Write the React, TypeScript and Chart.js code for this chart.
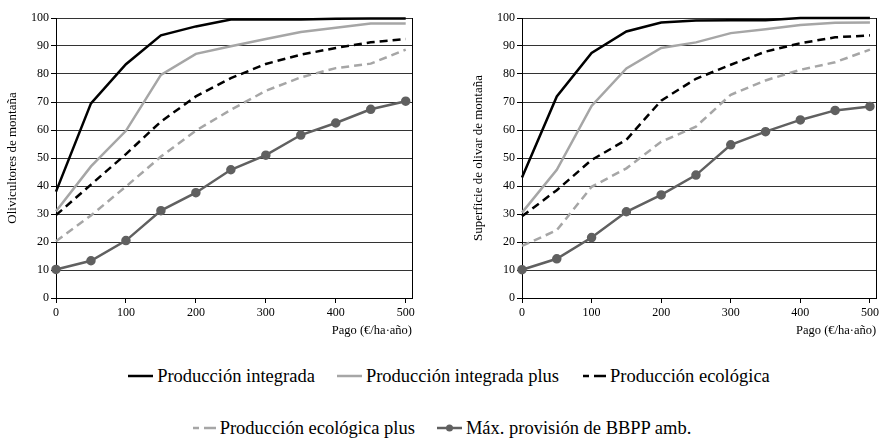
import React, { useEffect, useRef } from "react";
import { Chart, registerables } from "chart.js";

Chart.register(...registerables);

const payments = [0, 50, 100, 150, 200, 250, 300, 350, 400, 450, 500];
const xTickValues = [0, 100, 200, 300, 400, 500];

const seriesNames = [
  "Producción integrada",
  "Producción integrada plus",
  "Producción ecológica",
  "Producción ecológica plus",
  "Máx. provisión de BBPP amb.",
];

// Left chart: Olivicultores de montaña
const integ1 = [38, 69.5, 83.5, 93.8, 97, 99.5, 99.5, 99.5, 99.7, 99.8, 99.8];
const integPlus1 = [31, 47, 59.7, 79.7, 87.2, 89.9, 92.5, 95, 96.5, 98, 98];
const eco1 = [29.6, 40.5, 51.4, 63, 72, 78.5, 83.6, 86.9, 89.3, 91.3, 92.5];
const ecoPlus1 = [20.3, 29.5, 39.8, 50.5, 59.8, 67.2, 74, 78.8, 82.1, 83.7, 88.7];
const max1 = [10.2, 13.3, 20.5, 31.2, 37.6, 45.8, 51, 58.2, 62.5, 67.4, 70.3];

// Right chart: Superficie de olivar de montaña
const integ2 = [43, 72, 87.5, 95.2, 98.4, 99.1, 99.2, 99.2, 100, 100, 100];
const integPlus2 = [30.5, 45.8, 68.6, 82, 89.3, 91.3, 94.6, 96, 97.5, 98.3, 98.4];
const eco2 = [29.2, 38.5, 49.3, 56.5, 70.5, 78.3, 83.3, 88, 91, 93.1, 93.8];
const ecoPlus2 = [18.6, 24.2, 39.7, 46.3, 55.8, 61.2, 72.6, 77.7, 81.5, 84.2, 88.7];
const max2 = [10.1, 14, 21.6, 30.8, 36.8, 43.9, 54.7, 59.4, 63.6, 67, 68.4];

const yTitle1 = "Olivicultores de montaña";
const yTitle2 = "Superficie de olivar de montaña";
const xTitle = "Pago (€/ha·año)";

const FONT = "'Liberation Serif', 'Times New Roman', serif";
const BLACK = "#000000";
const LIGHT = "#a6a6a6";
const DARK = "#606060";

const styles = [
  { color: BLACK, dash: [] as number[], point: false },
  { color: LIGHT, dash: [] as number[], point: false },
  { color: BLACK, dash: [8, 5], point: false },
  { color: LIGHT, dash: [8, 5], point: false },
  { color: DARK, dash: [] as number[], point: true },
];

const rightBorder = {
  id: "rightBorder",
  afterDraw(chart: any) {
    const { ctx, chartArea } = chart;
    ctx.save();
    ctx.strokeStyle = "#000";
    ctx.lineWidth = 1;
    const x = Math.round(chartArea.right) + 0.5;
    ctx.beginPath();
    ctx.moveTo(x, chartArea.top);
    ctx.lineTo(x, chartArea.bottom);
    ctx.stroke();
    ctx.restore();
  },
};

function makeConfig(series: number[][], yTitle: string, padRight: number): any {
  return {
    type: "line",
    data: {
      datasets: series.map((arr, i) => ({
        label: seriesNames[i],
        data: payments.map((x, j) => ({ x, y: arr[j] })),
        borderColor: styles[i].color,
        backgroundColor: styles[i].color,
        borderWidth: 2.5,
        borderDash: styles[i].dash,
        pointRadius: styles[i].point ? 3.5 : 0,
        pointHoverRadius: styles[i].point ? 3.5 : 0,
        pointBackgroundColor: styles[i].color,
        pointBorderColor: styles[i].color,
        tension: 0,
        fill: false,
        clip: 6,
      })),
    },
    options: {
      animation: false,
      responsive: false,
      devicePixelRatio: 1,
      events: [],
      layout: {
        autoPadding: false,
        padding: { left: 0, top: 18, right: padRight, bottom: 0 },
      },
      plugins: {
        legend: { display: false },
        tooltip: { enabled: false },
      },
      scales: {
        x: {
          type: "linear",
          min: 0,
          max: 509,
          afterFit(scale: any) {
            scale.height = 40;
          },
          afterBuildTicks(scale: any) {
            scale.ticks = xTickValues.map((v) => ({ value: v }));
          },
          ticks: {
            autoSkip: false,
            maxRotation: 0,
            color: "#000",
            padding: 3,
            font: { family: FONT, size: 12 },
          },
          grid: {
            display: true,
            drawOnChartArea: false,
            drawTicks: true,
            tickLength: 5,
            tickColor: "#000",
          },
          border: { display: true, color: "#000", width: 1 },
          title: {
            display: true,
            text: xTitle,
            align: "end",
            color: "#000",
            padding: { top: 0, bottom: 0 },
            font: { family: FONT, size: 12.5 },
          },
        },
        y: {
          type: "linear",
          min: 0,
          max: 100,
          afterFit(scale: any) {
            scale.width = 56;
          },
          ticks: {
            stepSize: 10,
            color: "#000",
            padding: 2,
            font: { family: FONT, size: 12 },
          },
          grid: {
            color: "#333333",
            lineWidth: 1,
            drawTicks: true,
            tickLength: 5,
            tickColor: "#000",
          },
          border: { display: true, color: "#000", width: 1 },
          title: {
            display: true,
            text: yTitle,
            color: "#000",
            padding: { top: 5, bottom: 0 },
            font: { family: FONT, size: 13 },
          },
        },
      },
    },
    plugins: [rightBorder],
  };
}

function LineChart(props: { series: number[][]; yTitle: string; width: number; height: number; padRight: number }) {
  const ref = useRef<HTMLCanvasElement | null>(null);
  useEffect(() => {
    if (!ref.current) return;
    const chart = new Chart(ref.current, makeConfig(props.series, props.yTitle, props.padRight));
    return () => chart.destroy();
  }, []);
  return <canvas ref={ref} width={props.width} height={props.height} style={{ display: "block" }} />;
}

function Swatch(props: { index: number }) {
  const s = styles[props.index];
  const w = 25;
  const lines =
    s.dash.length > 0 ? (
      <>
        <line x1={2} y1={6} x2={8} y2={6} stroke={s.color} strokeWidth={2.5} />
        <line x1={13} y1={6} x2={25} y2={6} stroke={s.color} strokeWidth={2.5} />
      </>
    ) : (
      <line x1={0} y1={6} x2={w} y2={6} stroke={s.color} strokeWidth={2.5} />
    );
  return (
    <svg width={w} height={12} style={{ display: "block", marginRight: 4 }}>
      {lines}
      {s.point ? <circle cx={w / 2} cy={6} r={3.5} fill={s.color} /> : null}
    </svg>
  );
}

function LegendRow(props: { items: number[]; top: number; shift: number }) {
  return (
    <div
      style={{
        position: "absolute",
        left: props.shift,
        top: props.top,
        width: 882,
        height: 22,
        display: "flex",
        justifyContent: "center",
        alignItems: "center",
        gap: 22,
        fontFamily: FONT,
        fontSize: 18.5,
        lineHeight: "22px",
        color: "#000",
        whiteSpace: "nowrap",
      }}
    >
      {props.items.map((i) => (
        <div key={i} style={{ display: "flex", alignItems: "center" }}>
          <Swatch index={i} />
          <span>{seriesNames[i]}</span>
        </div>
      ))}
    </div>
  );
}

export default function App() {
  return (
    <div
      style={{
        position: "fixed",
        left: 0,
        top: 0,
        width: 882,
        height: 439,
        background: "#fff",
        overflow: "hidden",
      }}
    >
      <div style={{ position: "absolute", left: 0, top: 0 }}>
        <LineChart series={[integ1, integPlus1, eco1, ecoPlus1, max1]} yTitle={yTitle1} width={441} height={338} padRight={29} />
      </div>
      <div style={{ position: "absolute", left: 466, top: 0 }}>
        <LineChart series={[integ2, integPlus2, eco2, ecoPlus2, max2]} yTitle={yTitle2} width={416} height={338} padRight={4} />
      </div>
      <LegendRow items={[0, 1, 2]} top={365} shift={8} />
      <LegendRow items={[3, 4]} top={417} shift={0} />
    </div>
  );
}
